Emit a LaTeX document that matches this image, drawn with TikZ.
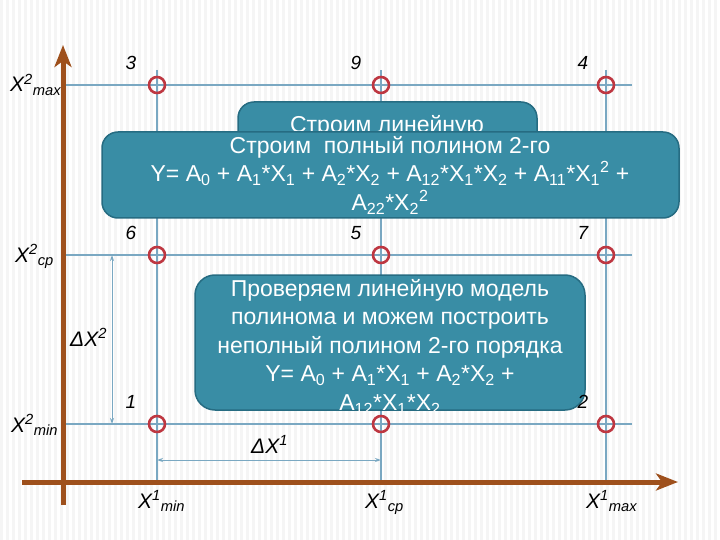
\documentclass[tikz,border=0pt]{standalone}
\usepackage{fontspec}
\setmainfont{Liberation Sans}
\usetikzlibrary{arrows.meta,calc}

\definecolor{axisbrown}{RGB}{158,80,28}
\definecolor{gridblue}{RGB}{122,168,194}
\definecolor{ptred}{RGB}{190,55,65}
\definecolor{boxteal}{RGB}{57,141,165}
\definecolor{boxedge}{RGB}{38,108,130}

\tikzset{
  axisline/.style={axisbrown,line width=5pt,-{Stealth[length=22pt,width=17pt,inset=6pt]}},
  grid line/.style={gridblue,line width=1.3pt},
  dim/.style={gridblue,line width=1pt,{Stealth[length=6pt,width=4pt]}-{Stealth[length=6pt,width=4pt]}},
  xpoint/.style={circle,draw=ptred,line width=2.6pt,minimum size=16pt,inner sep=0pt},
  num/.style={font=\fontsize{19}{19}\selectfont\itshape,inner sep=0pt},
  lab/.style={font=\fontsize{21}{21}\selectfont\itshape,anchor=base west,inner sep=0pt},
  tealbox/.style={fill=boxteal,draw=boxedge,line width=1.5pt,rounded corners=16pt,inner sep=0pt},
  boxtext/.style={text=white,align=center,font=\fontsize{23}{28.5}\selectfont,inner sep=0pt}
}

\begin{document}
\begin{tikzpicture}[x=1pt,y=-1pt]
\useasboundingbox (0,0) rectangle (720,540);
\foreach \i in {0,6,...,714} \fill[black!4] (\i,0) rectangle ++(2.5,540);

% grid of the plan
\foreach \x in {157,381,606} \draw[grid line] (\x,70) -- (\x,482);
\foreach \y in {85,255,424} \draw[grid line] (63,\y) -- (632,\y);

% axes
\draw[axisline] (63,505) -- (63,45);
\draw[axisline] (22,482) -- (678,482);

% plan points
\node[xpoint] (p1) at (157,424) {};
\node[xpoint] (p8) at (381,424) {};
\node[xpoint] (p2) at (606,424) {};
\node[xpoint] (p6) at (157,255) {};
\node[xpoint] (p5) at (381,255) {};
\node[xpoint] (p7) at (606,255) {};
\node[xpoint] (p3) at (157,85) {};
\node[xpoint] (p9) at (381,85) {};
\node[xpoint] (p4) at (606,85) {};

% steps
\draw[dim] ($(p6)+(-45,0)$) -- ($(p1)+(-45,0)$);
\draw[dim] ($(p1)+(0,36)$) -- ($(p8)+(0,36)$);

% boxes
\node[tealbox,minimum width=299pt,minimum height=70pt] (lin) at (387.5,137) {};
\node[boxtext,anchor=base] (lintext) at (387,133) {Строим линейную};
\node[tealbox,minimum width=577pt,minimum height=86pt] (full) at (390.5,175) {};
\begin{scope}
\clip[rounded corners=16pt] (full.south west) rectangle (full.north east);
\node[boxtext,anchor=north] (fulltext) at (390,136) {Строим~ полный полином 2-го\\
  Y= A\textsubscript{0} + A\textsubscript{1}*X\textsubscript{1} + A\textsubscript{2}*X\textsubscript{2} + A\textsubscript{12}*X\textsubscript{1}*X\textsubscript{2} + A\textsubscript{11}*X\textsubscript{1}\textsuperscript{2} +\\
  A\textsubscript{22}*X\textsubscript{2}\textsuperscript{2}};
\end{scope}
\node[tealbox,rounded corners=20pt,minimum width=390pt,minimum height=135pt] (lowpoly) at (390,342.5) {};
\begin{scope}
\clip[rounded corners=20pt] (lowpoly.south west) rectangle (lowpoly.north east);
\node[boxtext,anchor=north] (lowtext) at (390,279) {Проверяем линейную модель\\
  полинома и можем построить\\
  неполный полином 2-го порядка\\
  Y= A\textsubscript{0} + A\textsubscript{1}*X\textsubscript{1} + A\textsubscript{2}*X\textsubscript{2} +\\
  A\textsubscript{12}*X\textsubscript{1}*X\textsubscript{2}};
\end{scope}

% point numbers
\node[num] (n3) at ($(p3)+(-26,-22)$) {3};
\node[num] (n9) at ($(p9)+(-25,-22)$) {9};
\node[num] (n4) at ($(p4)+(-23,-22)$) {4};
\node[num] (n6) at ($(p6)+(-26,-22)$) {6};
\node[num] (n5) at ($(p5)+(-25,-22)$) {5};
\node[num] (n7) at ($(p7)+(-23,-22)$) {7};
\node[num] (n1) at ($(p1)+(-26,-22)$) {1};
\node[num] (n2) at ($(p2)+(-23,-22)$) {2};

% factor levels
\node[lab] (x2max) at (10,92) {X\textsuperscript{2}\textsubscript{max}};
\node[lab] (x2cp) at (15,262) {X\textsuperscript{2}\textsubscript{ср}};
\node[lab] (x2min) at (11,432) {X\textsuperscript{2}\textsubscript{min}};
\node[lab] (x1min) at (138,508) {X\textsuperscript{1}\textsubscript{min}};
\node[lab] (x1cp) at (365,508) {X\textsuperscript{1}\textsubscript{ср}};
\node[lab] (x1max) at (586,508) {X\textsuperscript{1}\textsubscript{max}};
\node[lab] (dx2) at (70,346) {ΔX\textsuperscript{2}};
\node[lab] (dx1) at (251,453) {ΔX\textsuperscript{1}};
\end{tikzpicture}
\end{document}
